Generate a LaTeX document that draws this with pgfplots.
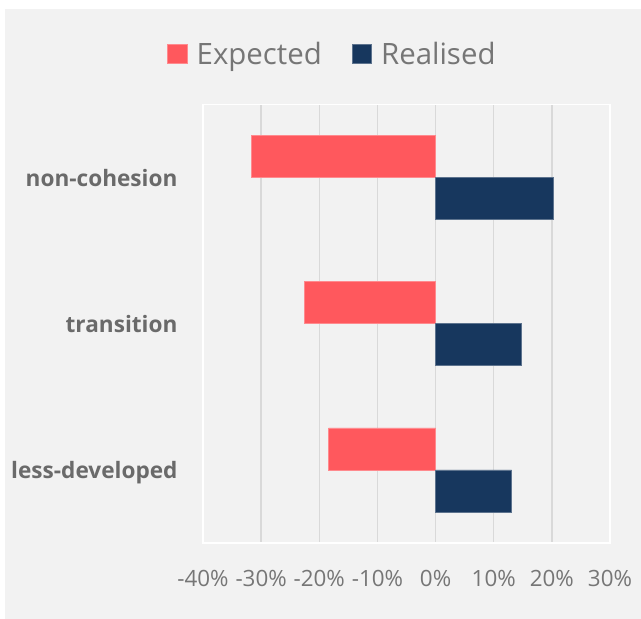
\documentclass[border=0pt]{standalone}
\usepackage{pgfplots}
\pgfplotsset{compat=1.18}
\usepackage{fontspec}
\setmainfont{Open Sans}
\definecolor{bg}{HTML}{F2F2F2}
\definecolor{expected}{HTML}{FF585D}
\definecolor{realised}{HTML}{17375E}
\definecolor{gridc}{HTML}{D9D9D9}
\definecolor{tickc}{HTML}{767676}
\definecolor{catc}{HTML}{6A6A6A}

\begin{document}
\begin{tikzpicture}[x=1bp,y=1bp]
\useasboundingbox (0,0) rectangle (641,619);
\fill[white] (0,0) rectangle (641,619);
\fill[bg] (5,0) rectangle (641,610);
\begin{axis}[
    at={(203bp,76bp)}, anchor=south west,
    scale only axis,
    width=407bp,
    height=438.3bp,
    xbar,
    bar width=0.2875,
    xmin=-40, xmax=30,
    ymin=-0.5, ymax=2.5,
    enlargelimits=false,
    xtick={-40,-30,...,30},
    xticklabels={-40\%,-30\%,-20\%,-10\%,0\%,10\%,20\%,30\%},
    ytick={0,1,2},
    yticklabels={less-developed,transition,non-cohesion},
    major tick length=0,
    xmajorgrids,
    major grid style={gridc, line width=1.5bp},
    axis line style={white, line width=1.5bp},
    axis background/.style={fill=bg},
    xticklabel style={font=\fontsize{22.4bp}{26bp}\selectfont, text=tickc, yshift=-24bp},
    yticklabel style={font=\bfseries\fontsize{22.6bp}{26bp}\selectfont, text=catc, xshift=-22bp,
        yshift=-3bp, text height=16bp, text depth=5bp},
    legend columns=-1,
    legend style={at={(0.5,1)}, anchor=center, xshift=-74bp, yshift=51bp,
        draw=none, fill=none, text=tickc,
        font=\fontsize{29.4bp}{34bp}\selectfont,
        /tikz/every odd column/.append style={column sep=7bp},
        /tikz/every even column/.append style={column sep=28bp}},
    legend image code/.code={\fill[#1] (0bp,-9.5bp) rectangle (19.5bp,9.5bp);},
]

% Expected
\addplot[fill=expected, draw=expected!70!white, line width=0.75bp, bar shift=0.14375]
    coordinates {(-18.4,0) (-22.5,1) (-31.6,2)};

% Realised
\addplot[fill=realised, draw=realised!70!white, line width=0.75bp, bar shift=-0.14375]
    coordinates {(13.1,0) (14.7,1) (20.3,2)};

\legend{Expected, Realised}
\end{axis}
\end{tikzpicture}
\end{document}
